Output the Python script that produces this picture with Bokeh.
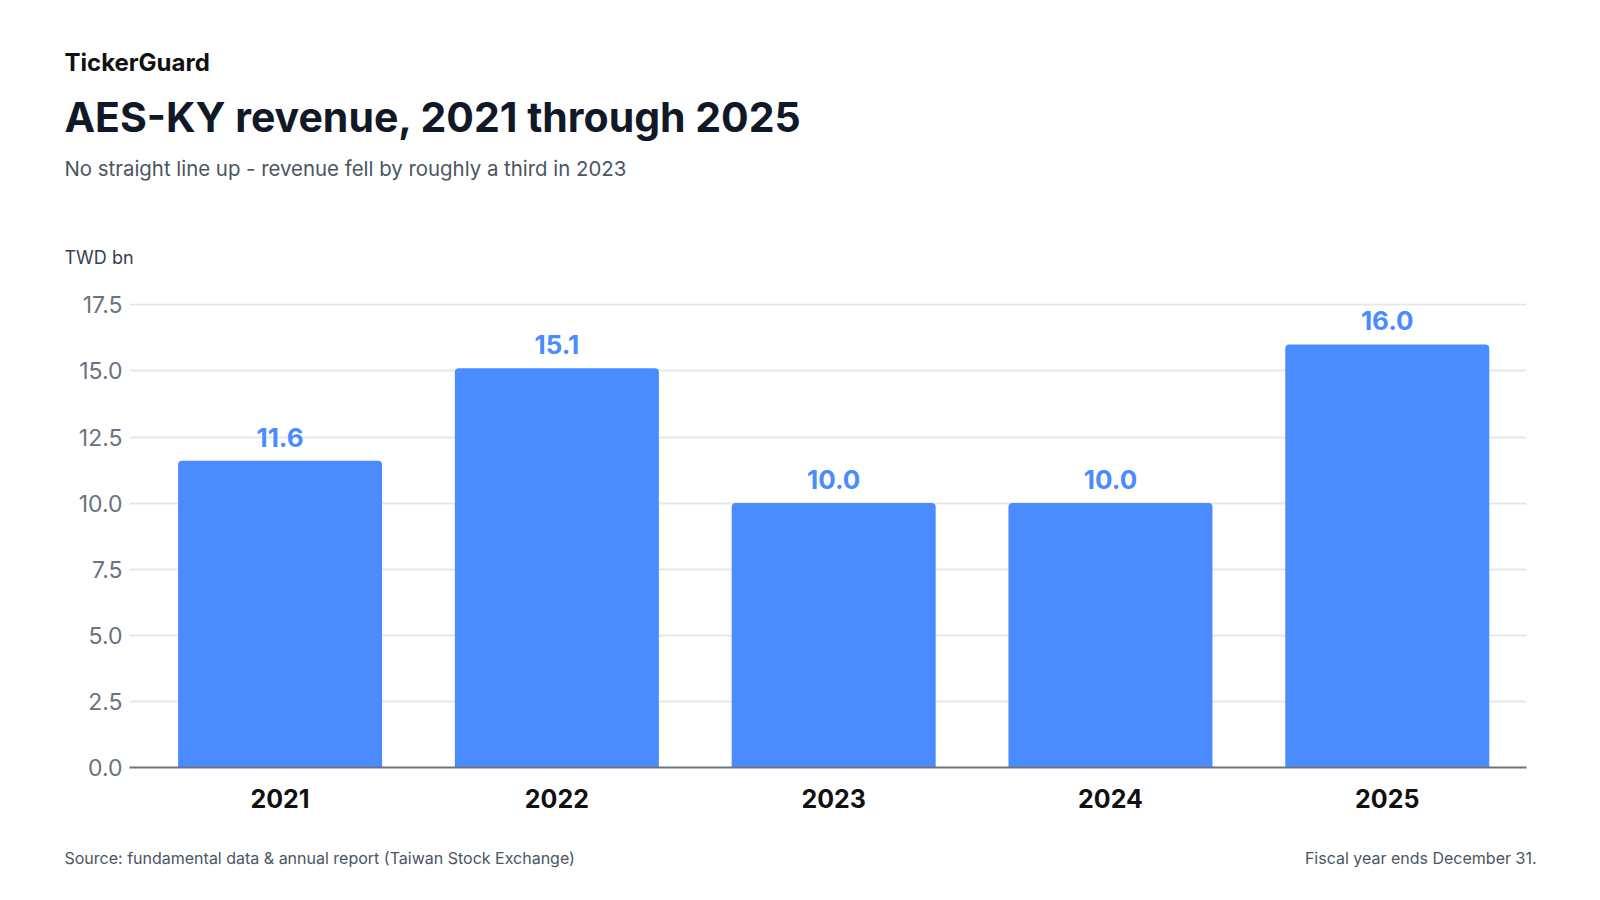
from bokeh.plotting import figure
from bokeh.layouts import column
from bokeh.models import Range1d, FixedTicker, PrintfTickFormatter, Label, LabelSet, ColumnDataSource
from bokeh.core.properties import value
from bokeh.embed import file_html
from bokeh.resources import INLINE

# data
years = [2021, 2022, 2023, 2024, 2025]
revenue = [11.6, 15.1, 10.0, 10.0, 16.0]
y_ticks = [0, 2.5, 5, 7.5, 10, 12.5, 15, 17.5]

brand = "TickerGuard"
title = "AES-KY revenue, 2021 through 2025"
subtitle = "No straight line up - revenue fell by roughly a third in 2023"
unit = "TWD bn"
source_note = "Source: fundamental data & annual report (Taiwan Stock Exchange)"
fiscal_note = "Fiscal year ends December 31."

FONT = "Inter"
BLUE = "#4a8cff"
W = 1584
HEAD_H, CHART_H, FOOT_H = 280, 544, 60


def text_panel(h):
    # blank figure whose data units are pixels, y counted from the top
    f = figure(width=W, height=h, output_backend="svg", toolbar_location=None,
               x_range=Range1d(0, W), y_range=Range1d(h, 0),
               x_axis_location=None, y_axis_location=None,
               min_border_left=0, min_border_right=0, min_border_top=0, min_border_bottom=0)
    f.outline_line_color = None
    f.grid.grid_line_color = None
    f.frame_align = False
    return f


def add_text(f, txt, x, y, size, color, style="normal", align="left"):
    # y is the middle of the capital letters
    f.add_layout(Label(x=x, y=y, text=txt, text_font=FONT, text_font_size=size,
                       text_font_style=style, text_color=color, text_align=align,
                       text_baseline="middle"))


# header
head = text_panel(HEAD_H)
add_text(head, brand, 64, 62, "24px", "#111111", "bold")
add_text(head, title, 64, 116, "41px", "#111827", "bold")
add_text(head, subtitle, 64, 168, "20.4px", "#4b5563")
add_text(head, unit, 64, 257, "18px", "#374151")

# chart
src = ColumnDataSource(dict(
    year=years,
    rev=revenue,
    lbl=[f"{v:.1f}" for v in revenue],
))

p = figure(width=W, height=CHART_H, output_backend="svg", toolbar_location=None,
           x_range=Range1d(2020.456, 2025.503), y_range=Range1d(0, 17.55),
           min_border_left=129, min_border_right=58, min_border_top=23, min_border_bottom=57)
p.outline_line_color = None

p.vbar(x="year", top="rev", width=0.737, source=src, fill_color=BLUE, line_color=None,
       border_radius=(4, 4, 0, 0))
p.add_layout(LabelSet(x="year", y="rev", text="lbl", source=src, y_offset=14,
                      text_align="center", text_baseline="alphabetic",
                      text_font=value(FONT), text_font_style="bold", text_font_size="26px",
                      text_color=BLUE))

p.xaxis.ticker = FixedTicker(ticks=years)
p.xaxis.major_tick_line_color = None
p.xaxis.minor_tick_line_color = None
p.xaxis.axis_line_color = "#6b7280"
p.xaxis.axis_line_width = 2
p.xaxis.major_label_text_font = FONT
p.xaxis.major_label_text_font_style = "bold"
p.xaxis.major_label_text_font_size = "25px"
p.xaxis.major_label_text_color = "#111111"
p.xaxis.major_label_standoff = 15

p.yaxis.ticker = FixedTicker(ticks=y_ticks)
p.yaxis.formatter = PrintfTickFormatter(format="%.1f")
p.yaxis.axis_line_color = None
p.yaxis.major_tick_line_color = None
p.yaxis.minor_tick_line_color = None
p.yaxis.major_label_text_font = FONT
p.yaxis.major_label_text_font_size = "23px"
p.yaxis.major_label_text_color = "#6b7280"
p.yaxis.major_label_standoff = 1

p.xgrid.grid_line_color = None
p.ygrid.grid_line_color = "#e5e7eb"
p.ygrid.grid_line_width = 2

# footer
foot = text_panel(FOOT_H)
add_text(foot, source_note, 64, 33, "16px", "#4b5563")
add_text(foot, fiscal_note, 1536, 33, "16px", "#4b5563", align="right")

open("out.html", "w").write(file_html(column(head, p, foot, spacing=0), INLINE))
